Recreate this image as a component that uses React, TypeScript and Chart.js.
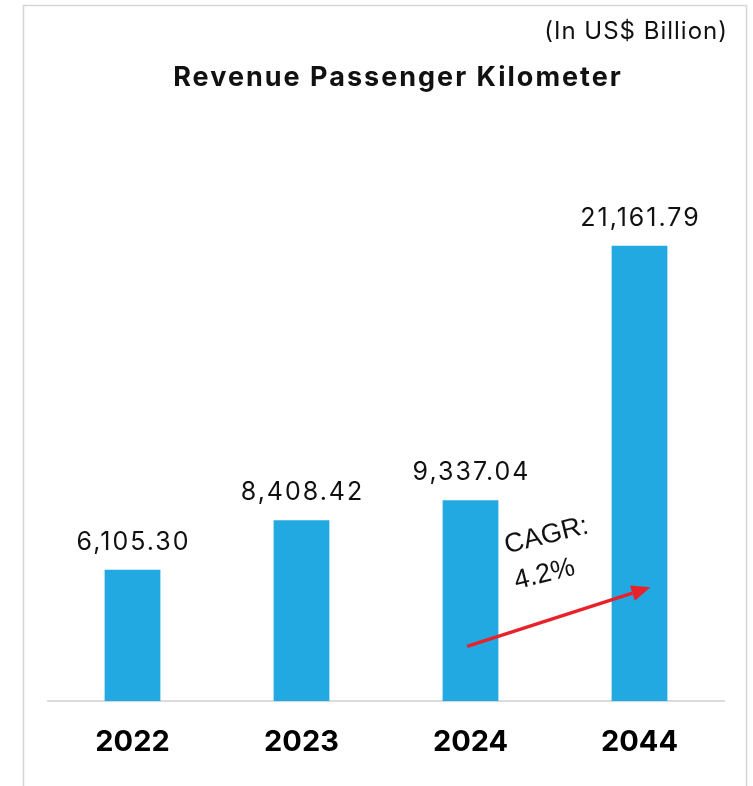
import React, { useEffect, useRef } from "react";
import { Chart, registerables } from "chart.js";

Chart.register(...registerables);

const categories = ["2022", "2023", "2024", "2044"];
const revenueValues = [6105.3, 8408.42, 9337.04, 21161.79];
const chartTitle = "Revenue Passenger Kilometer";
const unitNote = "(In US$ Billion)";
const cagrLines = ["CAGR:", "4.2%"];
// arrow endpoints in data coordinates [category index, value]
const cagrArrowFrom = [1.98, 2550];
const cagrArrowTo = [3.065, 5290];
const cagrTextAt = [2.444, 6780];

const BAR_COLOR = "#23A9E1";

const fmt = (v: number) =>
  v.toLocaleString("en-US", { minimumFractionDigits: 2, maximumFractionDigits: 2 });

const decorPlugin = {
  id: "decor",
  beforeDraw(chart: any) {
    const ctx = chart.ctx;
    ctx.save();
    ctx.fillStyle = "#ffffff";
    ctx.fillRect(0, 0, chart.width, chart.height);
    ctx.strokeStyle = "#d6d6d6";
    ctx.lineWidth = 1.5;
    ctx.strokeRect(23.5, 5.5, 723, 820);
    ctx.restore();
  },
  afterDraw(chart: any) {
    const ctx = chart.ctx;
    const xs = chart.scales.x;
    const ys = chart.scales.y;
    ctx.save();
    // unit note
    ctx.fillStyle = "#111";
    ctx.font = "400 24px Inter";
    (ctx as any).letterSpacing = "1px";
    ctx.textAlign = "right";
    ctx.textBaseline = "middle";
    ctx.fillText(unitNote, 728, 32);
    // title
    ctx.font = "700 27px Inter";
    (ctx as any).letterSpacing = "2px";
    ctx.textAlign = "center";
    ctx.fillText(chartTitle, 398, 78);

    // data labels
    const meta = chart.getDatasetMeta(0);
    ctx.font = "400 25px Inter";
    (ctx as any).letterSpacing = "2px";
    ctx.textBaseline = "alphabetic";
    ctx.fillStyle = "#111";
    meta.data.forEach((bar: any, i: number) => {
      ctx.fillText(fmt(revenueValues[i]), bar.x + 1, bar.y - 20);
    });
    (ctx as any).letterSpacing = "0px";

    // CAGR arrow
    const x1 = xs.getPixelForValue(cagrArrowFrom[0]);
    const y1 = ys.getPixelForValue(cagrArrowFrom[1]);
    const x2 = xs.getPixelForValue(cagrArrowTo[0]);
    const y2 = ys.getPixelForValue(cagrArrowTo[1]);
    const ang = Math.atan2(y2 - y1, x2 - x1);
    const headLen = 19;
    const headW = 8;
    ctx.strokeStyle = "#E8222B";
    ctx.fillStyle = "#E8222B";
    ctx.lineWidth = 3.5;
    ctx.beginPath();
    ctx.moveTo(x1, y1);
    ctx.lineTo(x2 - headLen * Math.cos(ang), y2 - headLen * Math.sin(ang));
    ctx.stroke();
    ctx.beginPath();
    ctx.moveTo(x2, y2);
    const bx = x2 - headLen * Math.cos(ang);
    const by = y2 - headLen * Math.sin(ang);
    ctx.lineTo(bx + headW * Math.sin(ang), by - headW * Math.cos(ang));
    ctx.lineTo(bx - headW * Math.sin(ang), by + headW * Math.cos(ang));
    ctx.closePath();
    ctx.fill();

    // CAGR text
    const tx = xs.getPixelForValue(cagrTextAt[0]);
    const ty = ys.getPixelForValue(cagrTextAt[1]);
    ctx.translate(tx, ty);
    ctx.rotate((-14 * Math.PI) / 180);
    ctx.fillStyle = "#111";
    ctx.font = "400 27px 'Liberation Sans'";
    ctx.textAlign = "center";
    ctx.textBaseline = "middle";
    ctx.fillText(cagrLines[0], 5.6, -18.5);
    ctx.fillText(cagrLines[1], -5.6, 18.5);
    ctx.restore();
  },
};

export default function App() {
  const ref = useRef<HTMLCanvasElement | null>(null);
  useEffect(() => {
    if (!ref.current) return;
    const chart = new Chart(ref.current, {
      type: "bar",
      data: {
        labels: categories,
        datasets: [
          {
            data: revenueValues,
            backgroundColor: BAR_COLOR,
            borderWidth: 0,
            barPercentage: 0.33,
            categoryPercentage: 1,
          },
        ],
      },
      options: {
        animation: false,
        responsive: false,
        maintainAspectRatio: false,
        layout: { padding: { top: 163, left: 48, right: 29, bottom: 2 } },
        plugins: {
          legend: { display: false },
          title: { display: false },
          tooltip: { enabled: false },
        },
        scales: {
          x: {
            grid: { display: false, drawTicks: false },
            border: { display: true, color: "#dcdcdc", width: 2 },
            ticks: {
              color: "#000",
              padding: 24,
              font: { family: "Inter", size: 29, weight: "bold" },
            },
          },
          y: {
            display: false,
            min: 0,
            max: 25000,
          },
        },
      },
      plugins: [decorPlugin],
    });
    return () => chart.destroy();
  }, []);
  return (
    <div style={{ position: "fixed", left: 0, top: 0, width: 753, height: 786 }}>
      <canvas ref={ref} width={753} height={786} style={{ width: 753, height: 786, display: "block" }} />
    </div>
  );
}
